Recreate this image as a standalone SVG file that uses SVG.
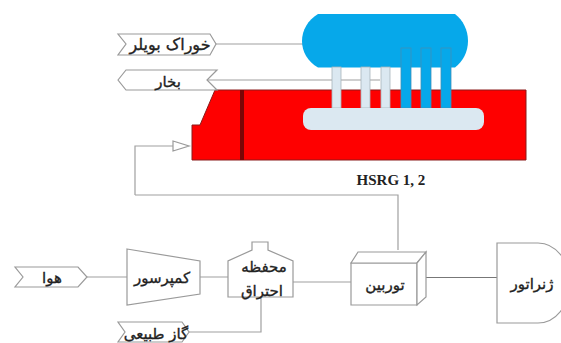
<svg xmlns="http://www.w3.org/2000/svg" width="561" height="343" viewBox="0 0 561 343">
<style>
.o{fill:#fff;stroke:#9a9a9a;stroke-width:1.2}
.c{fill:none;stroke:#a0a0a0;stroke-width:1.2}
.lt{fill:#dbe8f1;stroke:#a8b4bc;stroke-width:.8}
.bt{fill:#06a8ea;stroke:#3f8fb8;stroke-width:.8}
.t{font-family:"DejaVu Sans",sans-serif;fill:#222;stroke:#222;stroke-width:.35;text-anchor:middle;font-size:15px}
</style>
<rect width="561" height="343" fill="#fff"/>
<g id="connectors">
<path class="c" d="M216 44H303M207 80H380M135 195V146H173M135 195H398V250M87 277H127M200 277H228M293 282H351M189 332H261V297"/>
<path d="M426 277.500H497" fill="none" stroke="#777" stroke-width="1.200"/>
<path class="o" d="M173 141L189 146L173 151Z"/>
</g>
<g id="hrsg">
<path d="M215 90H526V160H192V125H200Z" fill="#fe0000" stroke="#8a1a1a" stroke-width="1"/>
<rect x="240" y="90" width="4" height="70" fill="#7a0606"/>
</g>
<g id="drum">
<path d="M318 14H455C463 20 468 30 468 41C468 52 463 61 455 67.500H318C308 62 302 52 302 41C302 30 308 20 318 14Z" fill="#06a8ea"/>
</g>
<g id="tubes">
<rect class="lt" x="332" y="67" width="9" height="41"/>
<rect class="lt" x="361" y="67" width="9" height="41"/>
<rect class="lt" x="381" y="67" width="9" height="41"/>
<rect class="bt" x="401" y="48" width="10" height="60"/>
<rect class="bt" x="421" y="48" width="10" height="60"/>
<rect class="bt" x="441" y="48" width="10" height="60"/>
<rect x="303" y="108" width="181" height="22" rx="8" fill="#dbe8f1"/>
</g>
<g id="tag-feed">
<path class="o" d="M118 34H210L216 44L210 55H118L126 44Z"/>
<text class="t" x="170" y="50" style="font-size:16px">خوراک بویلر</text>
</g>
<g id="tag-steam">
<path class="o" d="M118 80L126 70H217L207 80L217 90H126Z"/>
<text class="t" x="168" y="87">بخار</text>
</g>
<text x="391" y="185" text-anchor="middle" font-family="Liberation Serif,serif" font-weight="bold" font-size="15" fill="#222">HSRG 1, 2</text>
<g id="tag-air">
<path class="o" d="M15 267H78L87 277L78 287H15L23 277Z"/>
<text class="t" x="52" y="283">هوا</text>
</g>
<g id="compressor">
<path class="o" d="M127 249L200 261V294L127 305Z"/>
<text class="t" x="162" y="283">کمپرسور</text>
</g>
<g id="combustor">
<path class="o" d="M228 297V261L252 250V242H268V250L293 261V297Z"/>
<text class="t" x="264" y="272">محفظه</text>
<text class="t" x="262" y="296">احتراق</text>
</g>
<g id="tag-gas">
<path class="o" d="M118 322H182L189 332L182 342H118L125 332Z"/>
<text class="t" x="156" y="339">گاز طبیعی</text>
</g>
<g id="turbine">
<path class="o" d="M351 263H417V305H351Z"/>
<path class="o" d="M351 263L358 252H426L417 263Z"/>
<path class="o" d="M417 263L426 252V297L417 305Z"/>
<text class="t" x="385" y="290">توربین</text>
</g>
<g id="generator">
<path class="o" d="M497 243H538A32 40 0 0 1 538 323H497Z"/>
<text class="t" x="532" y="289">ژنراتور</text>
</g>
</svg>
